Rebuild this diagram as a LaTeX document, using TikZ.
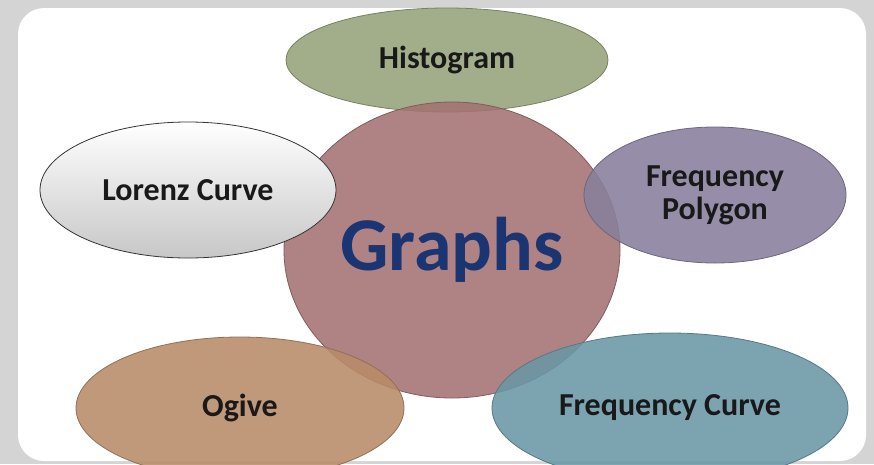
\documentclass[tikz,border=0pt]{standalone}
\usepackage{fontspec}
\setmainfont{Carlito}
\usetikzlibrary{shapes.geometric}
\definecolor{pagegrey}{HTML}{D4D4D4}
\definecolor{histgreen}{HTML}{96A27A}
\definecolor{graphrose}{HTML}{A47272}
\definecolor{polypurple}{HTML}{887F9C}
\definecolor{ogivetan}{HTML}{B78C68}
\definecolor{curveteal}{HTML}{6A97A6}
\definecolor{graphblue}{HTML}{1B3472}

\begin{document}
\begin{tikzpicture}[x=1pt, y=-1pt,
  bubble/.style={ellipse, inner sep=0pt, align=center, draw=#1!80!black, line width=0.8pt,
    fill=#1, fill opacity=0.88, text opacity=1, text=black!90,
    font=\fontsize{32}{33}\selectfont\bfseries}]
\useasboundingbox (0,0) rectangle (874,464);
\clip (0,0) rectangle (874,464);
\fill[pagegrey] (0,0) rectangle (874,464);
\fill[white, rounded corners=26pt] (18,8) rectangle (866,461);

% outer topics and the centre
\node[bubble=histgreen, minimum width=322pt, minimum height=104pt] (hist) at (447,60) {Histogram};
\node[bubble=graphrose, minimum width=336pt, minimum height=296pt, text=graphblue,
  font=\fontsize{76}{80}\selectfont\bfseries] (graphs) at (452,250) {Graphs};
\node[bubble=ogivetan, minimum width=328pt, minimum height=142pt] (ogive) at (240,408) {Ogive};
\node[bubble=curveteal, minimum width=356pt, minimum height=150pt] (curve) at (670,408) {Frequency Curve};
\node[bubble=polypurple, minimum width=262pt, minimum height=136pt] (poly) at (715,195) {Frequency\\Polygon};
\node[bubble=white, draw=black!80, fill opacity=1, top color=white, bottom color=black!22,
  minimum width=296pt, minimum height=136pt] (lorenz) at (188,190) {Lorenz Curve};
\end{tikzpicture}
\end{document}
